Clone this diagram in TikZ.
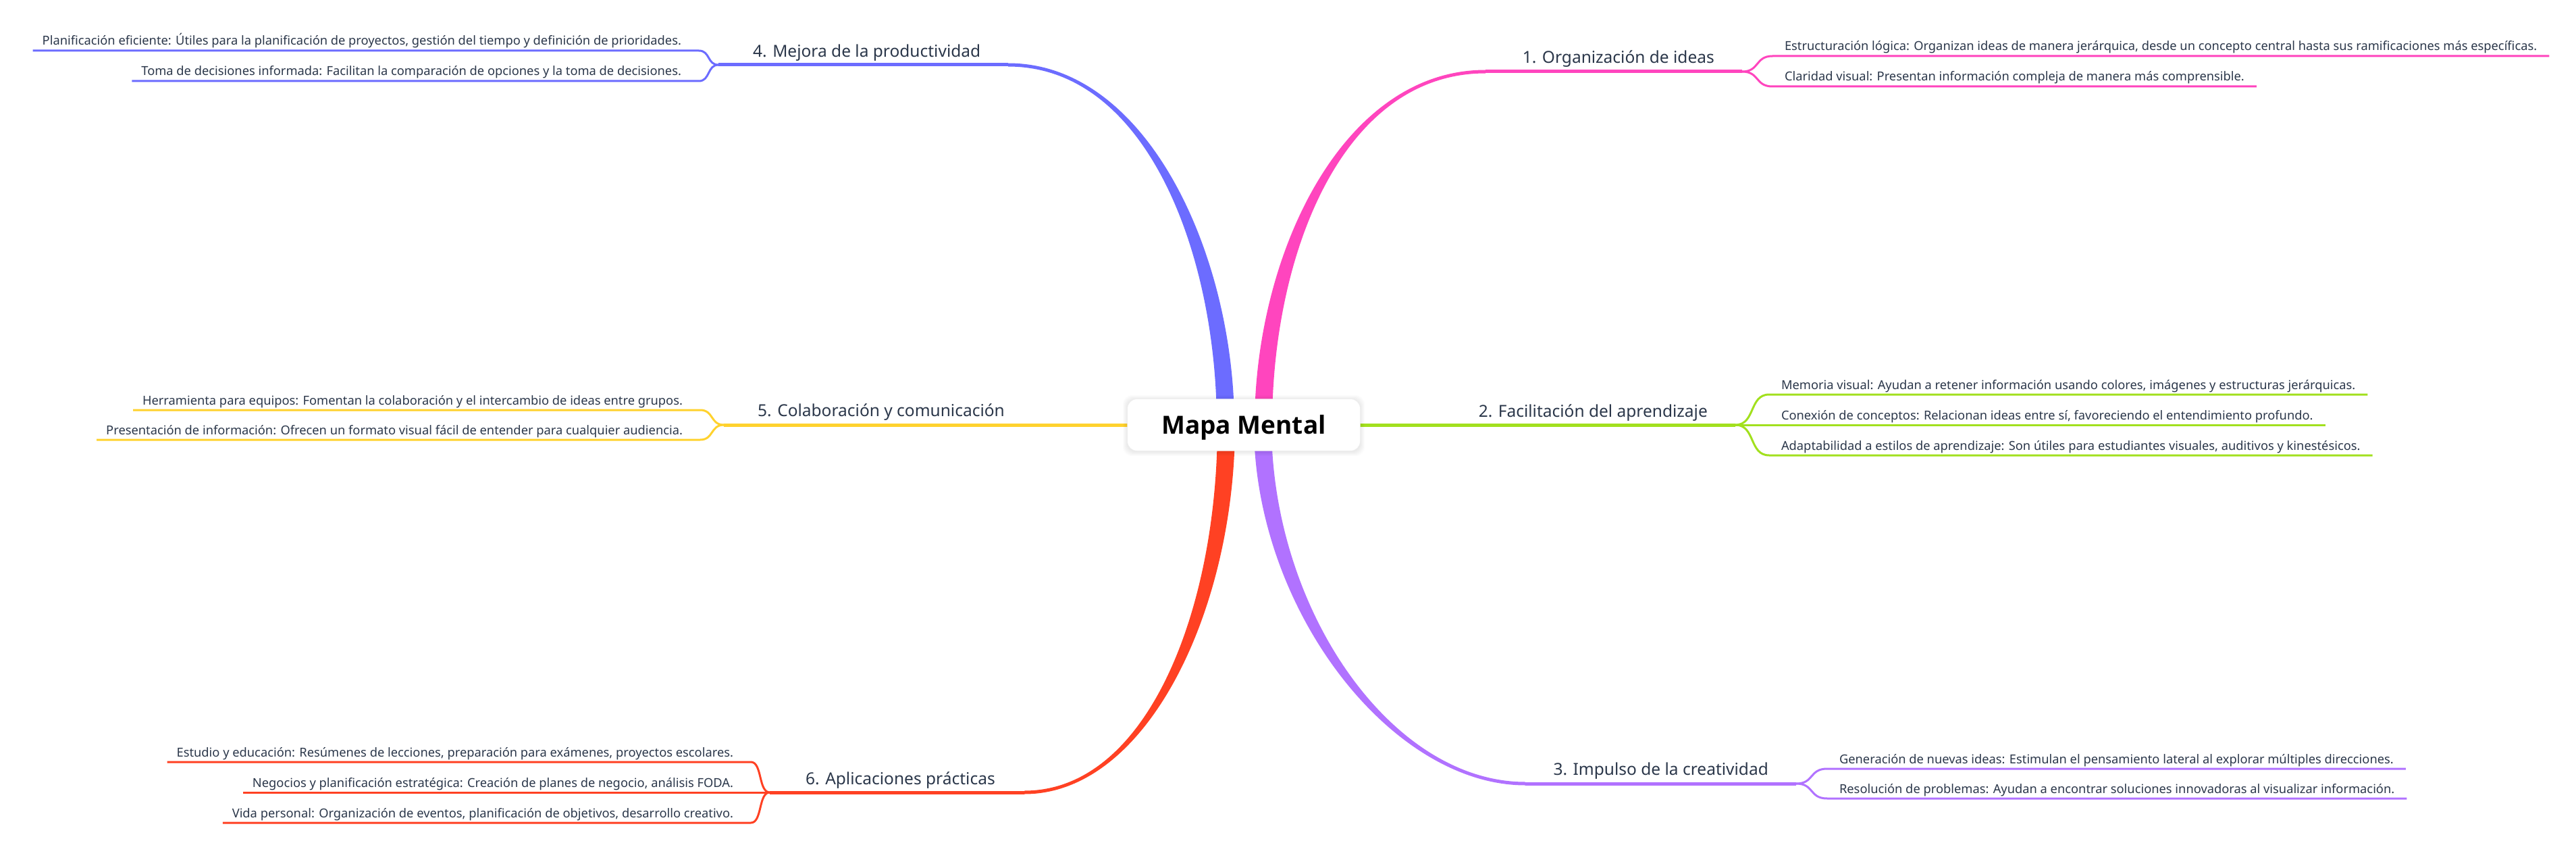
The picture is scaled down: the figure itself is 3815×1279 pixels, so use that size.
\documentclass[tikz,border=0pt]{standalone}
\usepackage{fontspec}
\setmainfont{Noto Sans}
\newfontfamily\rootfont{Open Sans}
\usetikzlibrary{calc}
\pgfdeclarelayer{bg}
\pgfsetlayers{bg,main}
\definecolor{cBlue}{HTML}{6C6CFF}
\definecolor{cPink}{HTML}{FF45BE}
\definecolor{cGreen}{HTML}{A2E01E}
\definecolor{cPurple}{HTML}{B172FF}
\definecolor{cRed}{HTML}{FF4123}
\definecolor{cYellow}{HTML}{FFD22E}
\definecolor{txt}{HTML}{2B374A}
\tikzset{
  subtxt/.style={font=\fontsize{18.3}{22}\selectfont, text=txt, inner ysep=8pt, text depth=0pt, outer sep=0pt},
  subR/.style={subtxt, inner xsep=18pt, anchor=south west},
  subL/.style={subtxt, inner xsep=14pt, anchor=south east},
  lbl/.style={font=\fontsize{24.5}{28}\selectfont, text=txt, inner sep=0pt},
  mline/.style={line width=5pt, draw=#1},
  sline/.style={line width=3pt, draw=#1, line join=round},
  root/.style={fill=white, rounded corners=14pt, minimum width=344pt, minimum height=76pt,
    font=\rootfont\bfseries\fontsize{37}{40}\selectfont, text=black, text height=27pt, text depth=0pt, inner sep=0pt}
}
% tapered main branch: color, sign, P0, P1, P2, P3
\newcommand\mmtaper[6]{\fill[#1] ($(#3)+({#2*13},0)$) .. controls ($(#4)+({#2*13},0)$) and ($(#5)+(0,2.5)$) .. ($(#6)+(0,2.5)$) -- ($(#6)+(0,-2.5)$) .. controls ($(#5)+(0,-2.5)$) and ($(#4)+({-1*(#2)*13},0)$) .. ($(#3)+({-1*(#2)*13},0)$) -- cycle;}
\begin{document}
\begin{tikzpicture}[x=1pt,y=-1pt]
\useasboundingbox (0,0) rectangle (3815,1279);
% root
\node[root] (mm) at (1842,629) {Mapa Mental};
% branch geometry
\coordinate (b1a) at ($(mm.center)+(29,0)$);  \coordinate (b1b) at (1871,380); \coordinate (b1c) at (1986,106); \coordinate (b1d) at (2200,106); \coordinate (f1) at (2580,106);
\coordinate (f2) at (2570,629);
\coordinate (b3a) at ($(mm.center)+(28,0)$);  \coordinate (b3b) at (1870,900); \coordinate (b3c) at (2059,1160); \coordinate (b3d) at (2259,1160); \coordinate (f3) at (2660,1160);
\coordinate (b4a) at ($(mm.center)+(-27,0)$); \coordinate (b4b) at (1815,380); \coordinate (b4c) at (1700,96); \coordinate (b4d) at (1493,96); \coordinate (f4) at (1064,96);
\coordinate (f5) at (1072,629);
\coordinate (b6a) at ($(mm.center)+(-26,0)$); \coordinate (b6b) at (1816,900); \coordinate (b6c) at (1700,1173); \coordinate (b6d) at (1517,1173); \coordinate (f6) at (1140,1173);
% sub branch ends
\coordinate (e11) at (2625,83);  \coordinate (e12) at (2625,128);
\coordinate (e21) at (2620,584); \coordinate (e22) at (2620,629); \coordinate (e23) at (2620,674);
\coordinate (e31) at (2706,1138); \coordinate (e32) at (2706,1182);
\coordinate (e41) at (1035,75);  \coordinate (e42) at (1035,120);
\coordinate (e51) at (1037,607); \coordinate (e52) at (1037,651);
\coordinate (e61) at (1112,1128); \coordinate (e62) at (1112,1173); \coordinate (e63) at (1112,1218);
% labels
\node[lbl, anchor=base east] (l1) at ($(f1)+(-41,-12)$) {1. Organización de ideas};
\node[lbl, anchor=base east] (l2) at ($(f2)+(-41,-12)$) {2. Facilitación del aprendizaje};
\node[lbl, anchor=base east] (l3) at ($(f3)+(-41,-13)$) {3. Impulso de la creatividad};
\node[lbl, anchor=base west] (l4) at ($(f4)+(51,-11)$) {4. Mejora de la productividad};
\node[lbl, anchor=base west] (l5) at ($(f5)+(50,-13)$) {5. Colaboración y comunicación};
\node[lbl, anchor=base west] (l6) at ($(f6)+(53,-12)$) {6. Aplicaciones prácticas};
% sub texts
\node[subR] (s11) at (e11) {Estructuración lógica: Organizan ideas de manera jerárquica, desde un concepto central hasta sus ramificaciones más específicas.};
\node[subR] (s12) at (e12) {Claridad visual: Presentan información compleja de manera más comprensible.};
\node[subR] (s21) at (e21) {Memoria visual: Ayudan a retener información usando colores, imágenes y estructuras jerárquicas.};
\node[subR] (s22) at (e22) {Conexión de conceptos: Relacionan ideas entre sí, favoreciendo el entendimiento profundo.};
\node[subR] (s23) at (e23) {Adaptabilidad a estilos de aprendizaje: Son útiles para estudiantes visuales, auditivos y kinestésicos.};
\node[subR] (s31) at (e31) {Generación de nuevas ideas: Estimulan el pensamiento lateral al explorar múltiples direcciones.};
\node[subR] (s32) at (e32) {Resolución de problemas: Ayudan a encontrar soluciones innovadoras al visualizar información.};
\node[subL] (s41) at ($(e41)+(-12,0)$) {Planificación eficiente: Útiles para la planificación de proyectos, gestión del tiempo y definición de prioridades.};
\node[subL] (s42) at ($(e42)+(-12,0)$) {Toma de decisiones informada: Facilitan la comparación de opciones y la toma de decisiones.};
\node[subL] (s51) at ($(e51)+(-12,0)$) {Herramienta para equipos: Fomentan la colaboración y el intercambio de ideas entre grupos.};
\node[subL] (s52) at ($(e52)+(-12,0)$) {Presentación de información: Ofrecen un formato visual fácil de entender para cualquier audiencia.};
\node[subL] (s61) at ($(e61)+(-12,0)$) {Estudio y educación: Resúmenes de lecciones, preparación para exámenes, proyectos escolares.};
\node[subL] (s62) at ($(e62)+(-12,0)$) {Negocios y planificación estratégica: Creación de planes de negocio, análisis FODA.};
\node[subL] (s63) at ($(e63)+(-12,0)$) {Vida personal: Organización de eventos, planificación de objetivos, desarrollo creativo.};
\begin{pgfonlayer}{bg}
\fill[white] (0,0) rectangle (3815,1279);
% main branches
\mmtaper{cPink}{1}{b1a}{b1b}{b1c}{b1d}
\draw[mline=cPink] (b1d) -- (f1);
\draw[mline=cGreen] (mm.east) -- (f2);
\mmtaper{cPurple}{-1}{b3a}{b3b}{b3c}{b3d}
\draw[mline=cPurple] (b3d) -- (f3);
\mmtaper{cBlue}{-1}{b4a}{b4b}{b4c}{b4d}
\draw[mline=cBlue] (b4d) -- (f4);
\draw[mline=cYellow] (mm.west) -- (f5);
\mmtaper{cRed}{1}{b6a}{b6b}{b6c}{b6d}
\draw[mline=cRed] (b6d) -- (f6);
% sub branches
\draw[sline=cPink] (f1) .. controls +(26,0) and +(-26,0) .. (e11) -- (s11.south east);
\draw[sline=cPink] (f1) .. controls +(26,0) and +(-26,0) .. (e12) -- (s12.south east);
\draw[sline=cGreen] (f2) .. controls +(30,0) and +(-30,0) .. (e21) -- (s21.south east);
\draw[sline=cGreen] (f2) -- (e22) -- (s22.south east);
\draw[sline=cGreen] (f2) .. controls +(30,0) and +(-30,0) .. (e23) -- (s23.south east);
\draw[sline=cPurple] (f3) .. controls +(27,0) and +(-27,0) .. (e31) -- (s31.south east);
\draw[sline=cPurple] (f3) .. controls +(27,0) and +(-27,0) .. (e32) -- (s32.south east);
\draw[sline=cBlue] (f4) .. controls +(-17,0) and +(17,0) .. (e41) -- (s41.south west);
\draw[sline=cBlue] (f4) .. controls +(-17,0) and +(17,0) .. (e42) -- (s42.south west);
\draw[sline=cYellow] (f5) .. controls +(-20,0) and +(20,0) .. (e51) -- (s51.south west);
\draw[sline=cYellow] (f5) .. controls +(-20,0) and +(20,0) .. (e52) -- (s52.south west);
\draw[sline=cRed] (f6) .. controls +(-17,0) and +(17,0) .. (e61) -- (s61.south west);
\draw[sline=cRed] (f6) -- (e62) -- (s62.south west);
\draw[sline=cRed] (f6) .. controls +(-17,0) and +(17,0) .. (e63) -- (s63.south west);
% root shadow
\foreach \i in {1,...,7}
  \fill[black, opacity=0.012, rounded corners=14pt] ($(mm.south west)+(-\i,\i+1)$) rectangle ($(mm.north east)+(\i,-\i+1)$);
\draw[black!6, line width=1pt, rounded corners=14pt] (mm.south west) rectangle (mm.north east);
\end{pgfonlayer}
\end{tikzpicture}
\end{document}
